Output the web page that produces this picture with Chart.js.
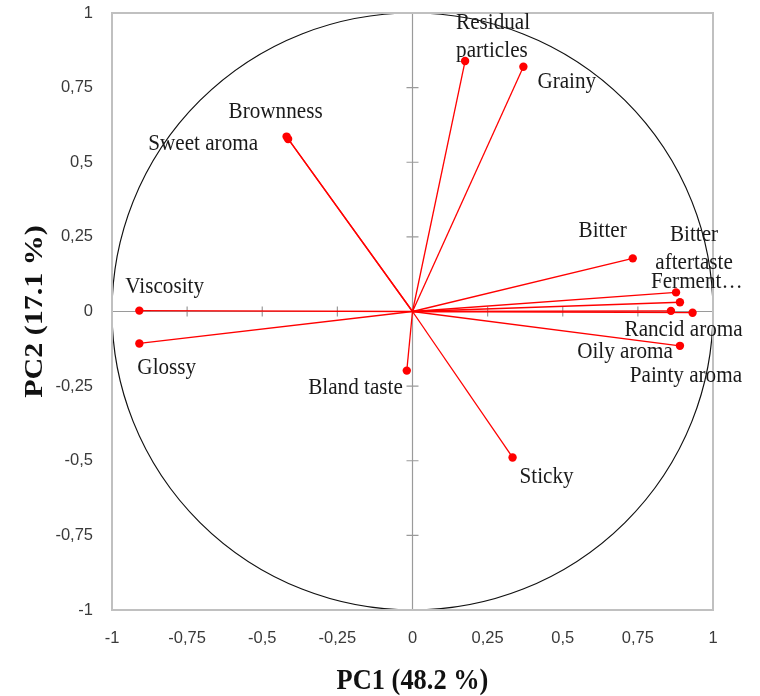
<!DOCTYPE html>
<html>
<head>
<meta charset="utf-8">
<title>PCA correlation circle</title>
<script src="https://cdn.jsdelivr.net/npm/chart.js@4.4.1/dist/chart.umd.min.js"></script>
<style>
  html, body { margin: 0; padding: 0; background: #ffffff; }
  canvas { display: block; }
</style>
</head>
<body>
<canvas id="pca" width="760" height="696"></canvas>
<script>
// Sensory attributes and their loadings on the first two principal components
const attributes = [
  'Residual particles', 'Grainy', 'Brownness', 'Sweet aroma', 'Viscosity',
  'Glossy', 'Bland taste', 'Sticky', 'Bitter', 'Bitter aftertaste',
  'Ferment\u2026', 'Rancid aroma', 'Oily aroma', 'Painty aroma'
];
const pc1 = [0.175, 0.369, -0.419, -0.414, -0.909, -0.909, -0.019, 0.333, 0.733, 0.877, 0.890, 0.932, 0.890, 0.860];
const pc2 = [0.839, 0.820, 0.586, 0.578, 0.003, -0.107, -0.198, -0.489, 0.178, 0.064, 0.031, -0.004, -0.115, 0.002];

// Axis tick labels (decimal comma)
const tickLabels = ['-1', '-0,75', '-0,5', '-0,25', '0', '0,25', '0,5', '0,75', '1'];

const xTitle = 'PC1 (48.2 %)';
const yTitle = 'PC2 (17.1 %)';

// Where each attribute name sits relative to its point (pixels), and how it is aligned
const labelPlacement = [
  { align: 'left',   dx: -9,  dy: -38, lines: ['Residual', 'particles'] },
  { align: 'left',   dx: 14,  dy: 15 },
  { align: 'center', dx: -11, dy: -25 },
  { align: 'right',  dx: -30, dy: 5 },
  { align: 'left',   dx: -14, dy: -24 },
  { align: 'left',   dx: -2,  dy: 25 },
  { align: 'right',  dx: -4,  dy: 17 },
  { align: 'left',   dx: 7,   dy: 19 },
  { align: 'right',  dx: -6,  dy: -27 },
  { align: 'center', dx: 18,  dy: -57, lines: ['Bitter', 'aftertaste'] },
  { align: 'left',   dx: -29, dy: -20.5 },
  { align: 'center', dx: -9,  dy: 17 },
  { align: 'right',  dx: -7,  dy: 6 },
  { align: 'center', dx: 15,  dy: 65 }
];

const RED = '#ff0000';

const datasets = attributes.map((name, i) => ({
  label: name,
  data: [{ x: 0, y: 0 }, { x: pc1[i], y: pc2[i] }],
  showLine: true,
  borderColor: RED,
  borderWidth: 1.3,
  backgroundColor: RED,
  pointBackgroundColor: RED,
  pointBorderColor: RED,
  pointRadius: [0, 4.2],
  pointHoverRadius: [0, 4.2],
  pointBorderWidth: 0,
  tension: 0
}));

// Text drawn with a slight horizontal condensing
function condensedText(ctx, text, x, y, align, sx) {
  ctx.save();
  ctx.translate(x, y);
  ctx.scale(sx, 1);
  ctx.textAlign = align;
  ctx.fillText(text, 0, 0);
  ctx.restore();
}

// Frame, zero axes with cross ticks, and the unit circle
const backdrop = {
  id: 'backdrop',
  beforeDatasetsDraw(chart) {
    const { ctx, chartArea: a, scales: { x, y } } = chart;
    const x0 = x.getPixelForValue(0);
    const y0 = y.getPixelForValue(0);
    ctx.save();

    // zero axes
    ctx.strokeStyle = '#9a9a9a';
    ctx.lineWidth = 1.2;
    ctx.beginPath();
    ctx.moveTo(a.left, y0); ctx.lineTo(a.right, y0);
    ctx.moveTo(x0, a.top); ctx.lineTo(x0, a.bottom);
    ctx.stroke();

    // cross ticks on the zero axes
    ctx.beginPath();
    x.ticks.forEach(t => {
      const px = x.getPixelForValue(t.value);
      ctx.moveTo(px, y0 - 5); ctx.lineTo(px, y0 + 5);
    });
    y.ticks.forEach(t => {
      const py = y.getPixelForValue(t.value);
      ctx.moveTo(x0 - 6, py); ctx.lineTo(x0 + 6, py);
    });
    ctx.stroke();

    // unit circle
    const rx = x.getPixelForValue(1) - x0;
    const ry = y0 - y.getPixelForValue(1);
    ctx.strokeStyle = '#111111';
    ctx.lineWidth = 1.2;
    ctx.beginPath();
    ctx.ellipse(x0, y0, rx, ry, 0, 0, Math.PI * 2);
    ctx.stroke();

    // plot frame
    ctx.strokeStyle = '#c0c0c0';
    ctx.lineWidth = 2;
    ctx.strokeRect(a.left, a.top, a.right - a.left, a.bottom - a.top);
    ctx.restore();
  }
};

// Attribute names and axis titles
const annotations = {
  id: 'annotations',
  afterDatasetsDraw(chart) {
    const { ctx, chartArea: a } = chart;
    ctx.save();
    ctx.fillStyle = '#1a1a1a';
    ctx.font = '23px "Liberation Serif", "Times New Roman", serif';
    ctx.textBaseline = 'middle';
    chart.data.datasets.forEach((ds, i) => {
      const pt = chart.getDatasetMeta(i).data[1];
      const p = labelPlacement[i];
      const lines = p.lines || [ds.label];
      lines.forEach((line, k) => {
        condensedText(ctx, line, pt.x + p.dx, pt.y + p.dy + k * 27.5, p.align, 0.92);
      });
    });

    ctx.fillStyle = '#111111';
    ctx.font = 'bold 30px "Liberation Serif", "Times New Roman", serif';
    ctx.textBaseline = 'middle';
    condensedText(ctx, xTitle, (a.left + a.right) / 2, 681, 'center', 0.88);

    ctx.save();
    ctx.translate(35, (a.top + a.bottom) / 2);
    ctx.rotate(-Math.PI / 2);
    ctx.scale(1, 0.85);
    ctx.textAlign = 'center';
    ctx.fillText(yTitle, 0, 0);
    ctx.restore();

    ctx.restore();
  }
};

const tickFont = { family: '"Liberation Sans", Arial, sans-serif', size: 16.5 };

new Chart(document.getElementById('pca'), {
  type: 'scatter',
  data: { datasets },
  options: {
    responsive: false,
    animation: false,
    devicePixelRatio: 1,
    layout: { padding: { left: 0, right: 47, top: 13, bottom: 0 } },
    plugins: {
      legend: { display: false },
      tooltip: { enabled: false }
    },
    scales: {
      x: {
        type: 'linear',
        min: -1, max: 1,
        afterFit(scale) { scale.height = 86; },
        grid: { display: false, drawTicks: false },
        border: { display: false },
        ticks: {
          stepSize: 0.25,
          padding: 19,
          color: '#3a3a3a',
          font: tickFont,
          maxRotation: 0,
          autoSkip: false,
          callback: (v, i) => tickLabels[i]
        }
      },
      y: {
        type: 'linear',
        min: -1, max: 1,
        afterFit(scale) { scale.width = 112; },
        grid: { display: false, drawTicks: true, tickLength: 19 },
        border: { display: false },
        ticks: {
          stepSize: 0.25,
          padding: 0,
          color: '#3a3a3a',
          font: tickFont,
          autoSkip: false,
          callback: (v, i) => tickLabels[i]
        }
      }
    }
  },
  plugins: [backdrop, annotations]
});
</script>
</body>
</html>
